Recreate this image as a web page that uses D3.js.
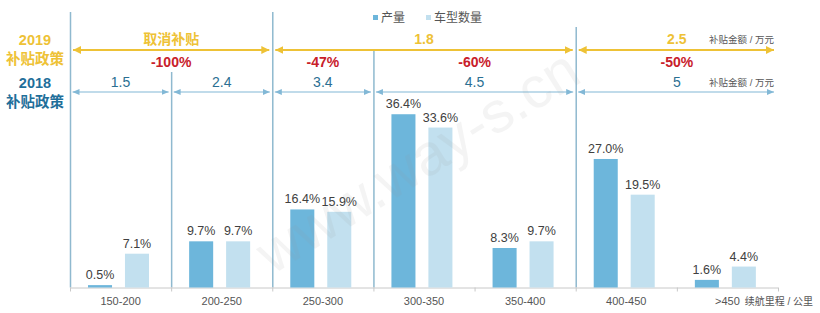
<!DOCTYPE html>
<html>
<head>
<meta charset="utf-8">
<script src="https://cdn.jsdelivr.net/npm/d3@7"></script>
<style>
  body { margin: 0; background: #fff; }
  svg { font-family: "Liberation Sans", Arial, "Noto Sans CJK SC", sans-serif; }
</style>
</head>
<body>
<div id="chart"></div>
<script>
const categories = ["150-200", "200-250", "250-300", "300-350", "350-400", "400-450", ">450"];
const series = ["产量", "车型数量"];
const production = [0.5, 9.7, 16.4, 36.4, 8.3, 27.0, 1.6];
const modelCount = [7.1, 9.7, 15.9, 33.6, 9.7, 19.5, 4.4];

// subsidy ranges, given as [first category index, last index + 1, label]
const policy2019 = [[0, 2, "取消补贴"], [2, 5, "1.8"], [5, 7, "2.5"]];
const policy2018 = [[0, 1, "1.5"], [1, 2, "2.4"], [2, 3, "3.4"], [3, 5, "4.5"], [5, 7, "5"]];
const cuts = [[0, 2, "-100%"], [2, 3, "-47%"], [3, 5, "-60%"], [5, 7, "-50%"]];
const separators = [0, 1, 2, 3, 5];
const separatorTops = [12, 72, 12, 50, 27];

const width = 820, height = 313;
const colors = { "产量": "#6db6db", "车型数量": "#c2e0ef" };
const gold = "#eec236", red = "#c8202a", blue = "#1f6f9a", arrowBlue = "#82b8d6";

const svg = d3.select("#chart").append("svg")
    .attr("width", width).attr("height", height);

const x = d3.scaleBand().domain(categories).range([70, 778]);
const step = x.step();
const xs = d3.scaleBand().domain(series).range([18, 79]).paddingInner(0.35);
const y = d3.scaleLinear().domain([0, 40]).range([287.5, 97.1]);
const edge = i => i < categories.length ? x(categories[i]) : x.range()[1];

// markers
const defs = svg.append("defs");
function marker(id, color, w, h, orient) {
    defs.append("marker").attr("id", id)
        .attr("markerUnits", "userSpaceOnUse")
        .attr("viewBox", `0 0 ${w} ${h}`)
        .attr("refX", w).attr("refY", h / 2)
        .attr("markerWidth", w).attr("markerHeight", h)
        .attr("orient", orient)
        .append("path").attr("d", `M0,0L${w},${h / 2}L0,${h}Z`).attr("fill", color);
}
marker("goldHead", gold, 8, 8, "auto-start-reverse");
marker("blueHead", arrowBlue, 7, 6, "auto-start-reverse");

// separators
svg.append("g").selectAll("line")
    .data(separators).enter().append("line")
    .attr("x1", d => edge(d) + 0.5).attr("x2", d => edge(d) + 0.5)
    .attr("y1", (d, i) => separatorTops[i]).attr("y2", y(0))
    .attr("stroke", "#8fb9cf").attr("stroke-width", 1.5);

// axis
const axis = svg.append("g");
axis.append("line").attr("x1", x.range()[0]).attr("x2", x.range()[1])
    .attr("y1", y(0) + 0.5).attr("y2", y(0) + 0.5).attr("stroke", "#c8c8c8");
axis.selectAll(".tick").data(d3.range(categories.length + 1)).enter().append("line")
    .attr("x1", d => edge(d) + 0.5).attr("x2", d => edge(d) + 0.5)
    .attr("y1", y(0)).attr("y2", y(0) + 4).attr("stroke", "#c8c8c8");
axis.selectAll("text").data(categories).enter().append("text")
    .attr("x", d => x(d) + step / 2).attr("y", 305)
    .attr("text-anchor", "middle").attr("font-size", 11).attr("fill", "#555")
    .text(d => d);
axis.append("text").attr("x", 813).attr("y", 305).attr("text-anchor", "end")
    .attr("font-size", 10).attr("fill", "#555").text("续航里程 / 公里");

// bars
const groups = svg.append("g").selectAll("g")
    .data(categories.map((c, i) => ({ c, vals: [production[i], modelCount[i]] })))
    .enter().append("g").attr("transform", d => `translate(${x(d.c)},0)`);
groups.selectAll("rect").data(d => d.vals.map((v, j) => ({ s: series[j], v })))
    .enter().append("rect")
    .attr("x", d => xs(d.s)).attr("width", xs.bandwidth())
    .attr("y", d => y(d.v)).attr("height", d => y(0) - y(d.v))
    .attr("fill", d => colors[d.s]);
groups.selectAll("text").data(d => d.vals.map((v, j) => ({ s: series[j], v })))
    .enter().append("text")
    .attr("x", d => xs(d.s) + xs.bandwidth() / 2).attr("y", d => y(d.v) - 6)
    .attr("text-anchor", "middle").attr("font-size", 12.5).attr("fill", "#404040")
    .text(d => d.v.toFixed(1) + "%");

// 2019 policy arrows
const yGold = 50, yBlue = 92;
const seg = (d, gap) => ({
    x0: edge(d[0]) + gap,
    x1: d[1] === categories.length ? 774 : edge(d[1]) - gap
});
svg.append("g").selectAll("line").data(policy2019).enter().append("line")
    .attr("x1", d => seg(d, 3).x0).attr("x2", d => seg(d, 3).x1)
    .attr("y1", yGold).attr("y2", yGold)
    .attr("stroke", gold).attr("stroke-width", 2.2)
    .attr("marker-start", "url(#goldHead)").attr("marker-end", "url(#goldHead)");
svg.append("g").selectAll("text").data(policy2019).enter().append("text")
    .attr("x", d => (edge(d[0]) + edge(d[1])) / 2).attr("y", 44)
    .attr("text-anchor", "middle").attr("font-size", 14).attr("font-weight", "bold")
    .attr("fill", gold).text(d => d[2]);

svg.append("g").selectAll("text").data(cuts).enter().append("text")
    .attr("x", d => (edge(d[0]) + edge(d[1])) / 2).attr("y", 67)
    .attr("text-anchor", "middle").attr("font-size", 14).attr("font-weight", "bold")
    .attr("fill", red).text(d => d[2]);

// 2018 policy arrows
svg.append("g").selectAll("line").data(policy2018).enter().append("line")
    .attr("x1", d => seg(d, 2.5).x0).attr("x2", d => seg(d, 2.5).x1)
    .attr("y1", yBlue).attr("y2", yBlue)
    .attr("stroke", arrowBlue).attr("stroke-width", 1.2)
    .attr("marker-start", "url(#blueHead)").attr("marker-end", "url(#blueHead)");
svg.append("g").selectAll("text").data(policy2018).enter().append("text")
    .attr("x", d => (edge(d[0]) + edge(d[1])) / 2).attr("y", 87)
    .attr("text-anchor", "middle").attr("font-size", 14)
    .attr("fill", "#2b6f92").text(d => d[2]);

// unit notes
[yGold - 7, yBlue - 6].forEach(yy => {
    svg.append("text").attr("x", 774).attr("y", yy).attr("text-anchor", "end")
        .attr("font-size", 9.5).attr("fill", "#555").text("补贴金额 / 万元");
});

// left labels
const left = svg.append("g").attr("font-size", 14.5).attr("font-weight", "bold").attr("text-anchor", "middle");
left.append("text").attr("x", 35).attr("y", 45).attr("fill", gold).text("2019");
left.append("text").attr("x", 35).attr("y", 64).attr("fill", gold).text("补贴政策");
left.append("text").attr("x", 35).attr("y", 88).attr("fill", blue).text("2018");
left.append("text").attr("x", 35).attr("y", 107).attr("fill", blue).text("补贴政策");

// legend
const legend = svg.append("g").attr("font-size", 12);
series.forEach((s, i) => {
    const lx = [373, 426][i];
    legend.append("rect").attr("x", lx).attr("y", 15).attr("width", 5).attr("height", 5).attr("fill", colors[s]);
    legend.append("text").attr("x", lx + 8).attr("y", 22).attr("fill", "#555").text(s);
});

// watermark
svg.append("text").attr("transform", "translate(420,165) rotate(-32)")
    .attr("text-anchor", "middle").attr("dominant-baseline", "middle").attr("font-size", 58)
    .attr("fill", "#999").attr("opacity", 0.1).text("www.way-s.cn");
</script>
</body>
</html>
